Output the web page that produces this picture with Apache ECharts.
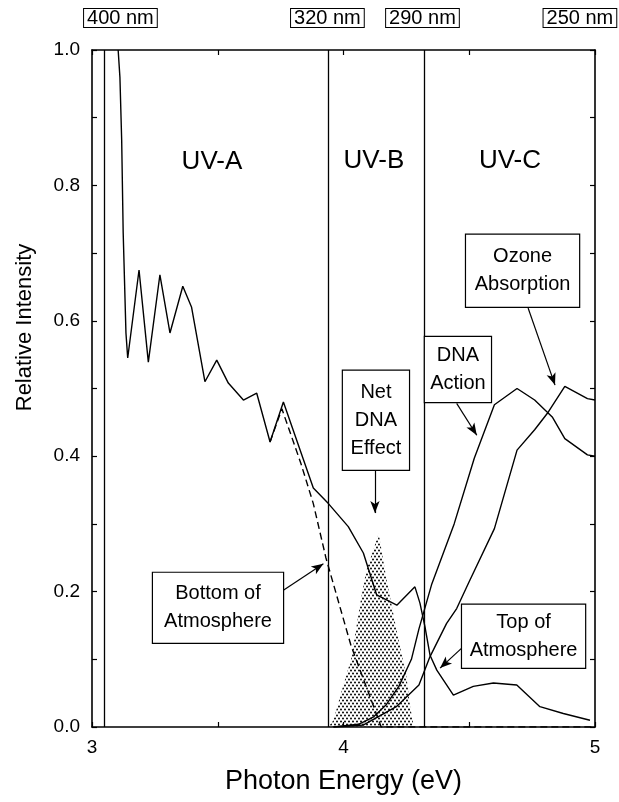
<!DOCTYPE html>
<html><head><meta charset="utf-8">
<script src="https://cdn.jsdelivr.net/npm/echarts@6/dist/echarts.min.js"></script>
<style>html,body{margin:0;padding:0;background:#fff}#c{width:619px;height:802px}</style>
</head><body><div id="c"></div>
<script>
// ---- data ----
const topAtmosphere = [[3.104,1.0],[3.111,0.96],[3.118,0.867],[3.124,0.73],[3.135,0.582],[3.142,0.545],[3.187,0.675],[3.224,0.539],[3.270,0.668],[3.310,0.582],[3.361,0.651],[3.396,0.620],[3.449,0.510],[3.496,0.542],[3.542,0.508],[3.602,0.483],[3.655,0.493],[3.708,0.421],[3.761,0.480],[3.880,0.353],[3.940,0.330],[4.019,0.296],[4.079,0.257],[4.132,0.195],[4.212,0.180],[4.284,0.207],[4.304,0.183],[4.324,0.148],[4.344,0.106],[4.371,0.084],[4.437,0.047],[4.516,0.060],[4.596,0.065],[4.689,0.062],[4.781,0.030],[4.874,0.020],[4.980,0.010]];
const bottomAtmosphere = [[3.708,0.421],[3.755,0.470],[3.830,0.390],[3.880,0.330],[3.930,0.250],[3.980,0.185],[4.030,0.120],[4.070,0.080],[4.120,0.030],[4.150,0.0],[5.0,0.0]];
const dnaAction = [[3.96,0.0],[4.06,0.004],[4.12,0.015],[4.17,0.033],[4.22,0.060],[4.27,0.100],[4.30,0.145],[4.35,0.210],[4.44,0.300],[4.52,0.397],[4.60,0.476],[4.69,0.500],[4.76,0.483],[4.83,0.458],[4.88,0.426],[4.97,0.402],[5.0,0.400]];
const ozoneAbsorption = [[3.96,0.0],[4.08,0.003],[4.21,0.030],[4.30,0.062],[4.344,0.104],[4.41,0.153],[4.45,0.175],[4.50,0.215],[4.60,0.293],[4.69,0.409],[4.76,0.439],[4.81,0.463],[4.88,0.503],[4.97,0.485],[5.0,0.483]];
const netDnaEffect = [[3.94,0.0],[3.96,0.01],[3.99,0.05],[4.03,0.10],[4.07,0.19],[4.09,0.23],[4.14,0.286],[4.17,0.22],[4.21,0.145],[4.25,0.075],[4.265,0.03],[4.28,0.0]];
const regionBounds = [3.052, 3.94, 4.316];
const nmLabels = ['400 nm','320 nm','290 nm','250 nm'];
const nmPositions = [3.113, 3.936, 4.314, 4.94];
const regionNames = ['UV-A','UV-B','UV-C'];
const regionLabelAt = [[3.477,0.835],[4.121,0.836],[4.662,0.836]];
const calloutTexts = ['Ozone\nAbsorption','DNA\nAction','Net\nDNA\nEffect','Top of\nAtmosphere','Bottom of\nAtmosphere'];
const calloutAt = [[4.712,0.674],[4.455,0.528],[4.129,0.453],[4.716,0.134],[3.501,0.176]];
const arrowFrom = [[4.734,0.619],[4.450,0.478],[4.125,0.380],[4.483,0.121],[3.761,0.202]];
const arrowTo = [[4.841,0.505],[4.530,0.431],[4.125,0.316],[4.384,0.087],[3.920,0.241]];

// ---- styles ----
const FONT = '"Liberation Sans", Arial, Helvetica, sans-serif';
const calloutBox = [[113,72],[66,65],[66,99],[123,63],[130,70]];
const LW = 1.4;

const pat = document.createElement('canvas');
pat.width = 4; pat.height = 6;
const g = pat.getContext('2d');
g.fillStyle = '#000';
[[1,1.5],[3,4.5]].forEach(p => { g.beginPath(); g.arc(p[0], p[1], 1.0, 0, Math.PI*2); g.fill(); });

const axisLineStyle = {show:true, onZero:false, lineStyle:{color:'#000', width:1.6}};
const tickStyle = {show:true, inside:true, length:5, lineStyle:{color:'#000', width:1.2}};

const chart = echarts.init(document.getElementById('c'), null, {renderer:'canvas'});
chart.setOption({
  animation:false,
  backgroundColor:'#fff',
  textStyle:{fontFamily:FONT, color:'#000'},
  grid:{left:92, right:24, top:50, bottom:75, containLabel:false, outerBoundsMode:'none'},
  xAxis:[
    {type:'value', min:3, max:5, interval:0.5, position:'bottom',
     axisLine:axisLineStyle, axisTick:tickStyle, splitLine:{show:false},
     axisLabel:{formatter:v => Number.isInteger(v) ? String(v) : '', fontSize:19, color:'#000', margin:11, fontFamily:FONT},
     name:'Photon Energy (eV)', nameLocation:'middle', nameGap:41,
     nameTextStyle:{fontSize:27, color:'#000', fontFamily:FONT}},
    {type:'value', min:3, max:5, interval:0.5, position:'top',
     axisLine:axisLineStyle, axisTick:tickStyle, splitLine:{show:false},
     axisLabel:{customValues:nmPositions,
       formatter:v => { let b=0; nmPositions.forEach((p,i)=>{ if (Math.abs(p-v) < Math.abs(nmPositions[b]-v)) b=i; }); return nmLabels[b]; },
       fontSize:20, lineHeight:17, color:'#000', margin:23, fontFamily:FONT,
       borderColor:'#000', borderWidth:1, padding:[1,3,0,3], backgroundColor:'#fff'}}
  ],
  yAxis:[
    {type:'value', min:0, max:1, interval:0.1, position:'left',
     axisLine:axisLineStyle, axisTick:tickStyle, splitLine:{show:false},
     axisLabel:{formatter:v => (Math.round(v*10) % 2 === 0) ? v.toFixed(1) : '', fontSize:19, color:'#000', margin:12, fontFamily:FONT},
     name:'Relative Intensity', nameLocation:'middle', nameGap:56, nameRotate:90,
     nameTextStyle:{fontSize:22, color:'#000', fontFamily:FONT, padding:[0,0,0,122]}},
    {type:'value', min:0, max:1, interval:0.1, position:'right',
     axisLine:axisLineStyle, axisTick:tickStyle, splitLine:{show:false}, axisLabel:{show:false}}
  ],
  series:[
    {name:'Net DNA Effect', type:'line', data:netDnaEffect, symbol:'none', silent:true, z:1,
     lineStyle:{width:0}, areaStyle:{color:{image:pat, repeat:'repeat'}, opacity:1}},
    {name:'Top of Atmosphere', type:'line', data:topAtmosphere, symbol:'none', silent:true, z:3,
     lineStyle:{color:'#000', width:LW},
     markLine:{silent:true, symbol:['none','none'], label:{show:false},
       lineStyle:{color:'#000', width:1.3, type:'solid'},
       data:regionBounds.map(v => ({xAxis:v}))}},
    {name:'Bottom of Atmosphere', type:'line', data:bottomAtmosphere, symbol:'none', silent:true, z:3,
     lineStyle:{color:'#000', width:LW, type:[7,4]}},
    {name:'DNA Action', type:'line', data:dnaAction, symbol:'none', silent:true, z:3,
     lineStyle:{color:'#000', width:LW}},
    {name:'Ozone Absorption', type:'line', data:ozoneAbsorption, symbol:'none', silent:true, z:3,
     lineStyle:{color:'#000', width:LW}},
    {name:'callouts', type:'scatter', symbolSize:0, silent:true, z:10, itemStyle:{color:'transparent'},
     data:calloutAt.map((p,i) => ({value:p, label:{
        show:true, position:'inside', formatter:calloutTexts[i], color:'#000', opacity:1, fontSize:20, lineHeight:28,
        fontFamily:FONT, align:'center', verticalAlign:'middle', textBorderWidth:0,
        backgroundColor:'#fff', borderColor:'#000', borderWidth:1.2,
        width:calloutBox[i][0], padding:[(calloutBox[i][1] - 28*calloutTexts[i].split('\n').length)/2, 0]}})),
     markLine:{silent:true, symbol:['none','arrow'], symbolSize:[7,12], label:{show:false},
       lineStyle:{color:'#000', width:1.2, type:'solid'},
       data:arrowFrom.map((f,i) => [{coord:f},{coord:arrowTo[i]}])}},
    {name:'regions', type:'scatter', symbolSize:0, silent:true, z:10, itemStyle:{color:'transparent'},
     data:regionLabelAt.map((p,i) => ({value:p, label:{show:true, position:'inside', formatter:regionNames[i],
        color:'#000', opacity:1, textBorderWidth:0, fontSize:26, fontFamily:FONT}}))}
  ]
});
</script></body></html>
